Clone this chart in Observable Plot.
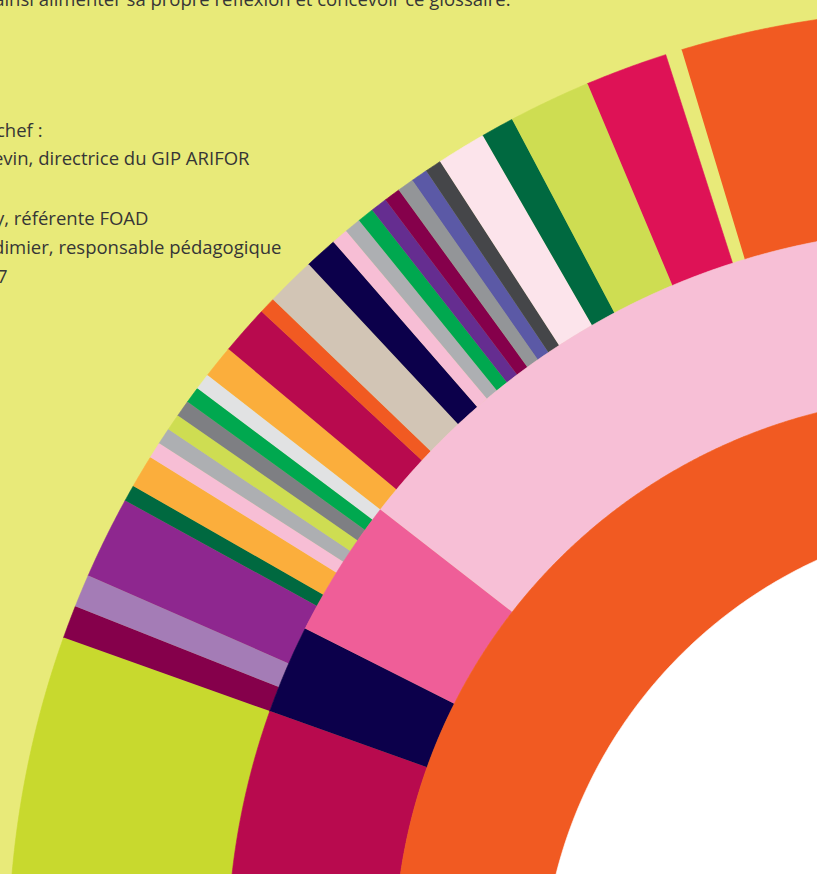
<!DOCTYPE html>
<html>
<head>
<meta charset="utf-8">
<script src="https://cdn.jsdelivr.net/npm/d3@7"></script>
<script src="https://cdn.jsdelivr.net/npm/@observablehq/plot@0.6"></script>
<style>
  html, body { margin: 0; padding: 0; background: #e8ea79; overflow: hidden; }
  #chart svg { display: block; }
</style>
</head>
<body>
<div id="chart"></div>
<script>
// ---------------- data ----------------
// outer ring (many small segments), values in angular units
const outerNames = ["o01","o02","o03","o04","o05","o06","o07","o08","o09","o10","o11","o12","o13","o14","o15","o16","o17","o18","o19","o20","o21","o22","o23","o24","o25","o26","o27","o28","o29","o30","o31"];
const outerValues = [19, 2, 2, 5, 1, 2, 1, 1, 1, 1, 1, 1, 2, 3, 1, 3, 2, 1, 1, 1, 1, 1, 1, 1, 1, 3, 2, 5, 5, 1, 20];
const outerColors = ["#c8d92e","#85004b","#a47cb6","#8e278f","#006940","#fbae3c","#f7bed5","#adafb2","#cedd52","#7e7f83","#00a84f","#e1e2e3","#fbae3c","#b80a4e","#f15a22","#d2c5b5","#0c004b","#f7bed5","#adafb2","#00a84f","#652d90","#85004b","#939598","#5b59a6","#454649","#fce4eb","#006940","#cedd52","#de1256", null, "#f15a22"];

// middle ring
const middleNames = ["m1","m2","m3","m4"];
const middleValues = [19, 7, 11, 60];
const middleColors = ["#b80a4e","#0c004b","#ef5e98","#f7bfd6"];

// inner ring
const innerNames = ["i1"];
const innerValues = [100];
const innerColors = ["#f15a22"];

// text lines (left part clipped by the page edge)
const textLines = [
  "ainsi alimenter sa propre réflexion et concevoir ce glossaire.",
  "chef :",
  "evin, directrice du GIP ARIFOR",
  "y, référente FOAD",
  "dimier, responsable pédagogique",
  "7"
];

// ---------------- layout ----------------
const W = 817, H = 874;
const CX = 954, CY = 955;          // pixel position of the ring centre
const UNIT_DEG = 360 / 356;        // one value unit, in degrees
const START_DEG = 0.43;            // first boundary, measured from west, clockwise
const RINGS = [
  {names: outerNames, values: outerValues, colors: outerColors, r0: 727, r1: 946},
  {names: middleNames, values: middleValues, colors: middleColors, r0: 560, r1: 727},
  {names: innerNames, values: innerValues, colors: innerColors, r0: 0, r1: 560}
];
const HOLE = {x: 61, y: -35, r: 474};
const textRight = [510, 42, 249, 148, 281, 7];
const textBase = [5, 136, 164, 224, 253, 282];

const rad = d => d * Math.PI / 180;
const rows = [];
RINGS.forEach((ring, ri) => {
  let a = START_DEG;
  ring.values.forEach((v, i) => {
    const a0 = a, a1 = a + v * UNIT_DEG;
    a = a1;
    const color = ring.colors[i];
    if (!color) return;
    const id = `r${ri}-${ring.names[i]}`;
    const n = Math.max(2, Math.ceil((a1 - a0) / 0.2));
    for (let k = 0; k <= n; k++) {
      const t = rad(a0 + (a1 - a0) * k / n);
      rows.push({seg: id, color, x: -ring.r1 * Math.cos(t), y: ring.r1 * Math.sin(t)});
    }
    if (ring.r0 > 0) {
      for (let k = n; k >= 0; k--) {
        const t = rad(a0 + (a1 - a0) * k / n);
        rows.push({seg: id, color, x: -ring.r0 * Math.cos(t), y: ring.r0 * Math.sin(t)});
      }
    } else {
      rows.push({seg: id, color, x: 0, y: 0});
    }
  });
});
// white centre
for (let k = 0; k <= 720; k++) {
  const t = rad(k / 2);
  rows.push({seg: "hole", color: "#ffffff", x: HOLE.x + HOLE.r * Math.cos(t), y: HOLE.y + HOLE.r * Math.sin(t)});
}

const textMarks = textLines.map((s, i) => Plot.text([s], {
  text: d => d,
  frameAnchor: "top-left",
  dx: textRight[i],
  dy: textBase[i],
  textAnchor: "end",
  lineAnchor: "bottom",
  fontSize: 18.5,
  fontFamily: "Open Sans",
  fill: "#363636"
}));

const chart = Plot.plot({
  width: W,
  height: H,
  margin: 0,
  style: {background: "#e8ea79", overflow: "hidden"},
  x: {domain: [-CX, W - CX], axis: null},
  y: {domain: [CY - H, CY], axis: null},
  color: {type: "identity"},
  marks: [
    Plot.line(rows, {x: "x", y: "y", z: "seg", fill: "color", stroke: "color", strokeWidth: 0.6, curve: "linear", clip: true}),
    ...textMarks
  ]
});
document.getElementById("chart").appendChild(chart);
</script>
</body>
</html>
